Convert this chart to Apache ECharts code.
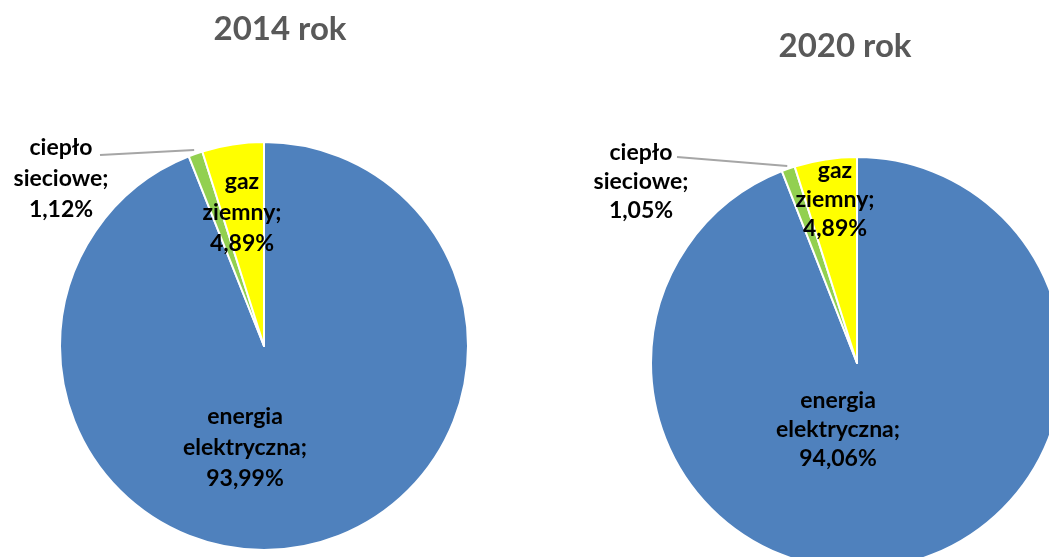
<!DOCTYPE html>
<html>
<head>
<meta charset="utf-8">
<script src="https://cdn.jsdelivr.net/npm/echarts@6/dist/echarts.min.js"></script>
<style>
html,body{margin:0;padding:0;background:#fff;}
#chart{width:1049px;height:557px;}
</style>
</head>
<body>
<div id="chart"></div>
<script>
// ---- data ----
const categories = ['energia\nelektryczna', 'ciepło\nsieciowe', 'gaz\nziemny'];
const values2014 = [93.99, 1.12, 4.89];
const values2020 = [94.06, 1.05, 4.89];
const titles = ['2014 rok', '2020 rok'];
const colors = ['#4F81BD', '#92D050', '#FFFF00'];

// ---- layout (pixels) ----
const pies = [
  { center: [264, 346], radius: 204, titlePos: [275, 24],
    labelOff: [[-19, 102], [-203, -167], [-22, -133]], lineHeight: 31,
    lineEnd: [-164, -191], lineOut: 4 },
  { center: [857, 363], radius: 206, titlePos: [840, 41],
    labelOff: [[-19, 67], [-216, -181], [-22, -163]], lineHeight: 29,
    lineEnd: [-180, -206], lineOut: 3 }
];
const FONT = 'Lato, "DejaVu Sans", sans-serif';

function fmt(v) { return v.toFixed(2).replace('.', ','); }

function makeSeries(vals, idx) {
  const p = pies[idx];
  const total = vals.reduce((a, b) => a + b, 0);
  // mid angle (radians, math convention) of each slice, clockwise from 12 o'clock
  let acc = 0;
  const mids = vals.map(v => { const m = acc + v / 2; acc += v; return Math.PI / 2 - (m / total) * 2 * Math.PI; });
  return {
    type: 'pie',
    center: p.center,
    radius: p.radius,
    startAngle: 90,
    clockwise: true,
    avoidLabelOverlap: false,
    animation: false,
    silent: true,
    itemStyle: { borderColor: '#ffffff', borderWidth: 2 },
    label: {
      show: true,
      position: 'inside',
      formatter: (prm) => prm.name + ';\n' + fmt(prm.value) + '%',
      fontFamily: FONT,
      fontWeight: 'bold',
      fontSize: 23,
      lineHeight: p.lineHeight,
      color: '#000',
      align: 'center'
    },
    labelLine: { show: false },
    labelLayout: function (prm) {
      const o = p.labelOff[prm.dataIndex];
      const res = { x: p.center[0] + o[0], y: p.center[1] + o[1], align: 'center', verticalAlign: 'middle' };
      if (prm.dataIndex === 1) {
        const a = mids[1];
        const r = p.radius + p.lineOut;
        const ex = p.center[0] + r * Math.cos(a);
        const ey = p.center[1] - r * Math.sin(a);
        const tx = p.center[0] + p.lineEnd[0];
        const ty = p.center[1] + p.lineEnd[1];
        res.labelLinePoints = [[ex, ey], [ex, ey], [tx, ty]];
      }
      return res;
    },
    data: categories.map((c, i) => {
      const d = { name: c, value: vals[i], itemStyle: { color: colors[i] } };
      if (i === 1) {
        d.label = { position: 'outside', color: '#000' };
        d.labelLine = { show: true, length: 5, length2: 60, smooth: false, lineStyle: { color: '#A6A6A6', width: 2 } };
      }
      return d;
    })
  };
}

const chart = echarts.init(document.getElementById('chart'), null, { renderer: 'canvas' });
chart.setOption({
  backgroundColor: '#ffffff',
  title: titles.map((t, i) => ({
    text: t,
    left: pies[i].titlePos[0],
    top: pies[i].titlePos[1],
    textAlign: 'center',
    textVerticalAlign: 'middle',
    textStyle: { fontFamily: FONT, fontWeight: 'bold', fontSize: 33, color: '#595959' }
  })),
  series: [makeSeries(values2014, 0), makeSeries(values2020, 1)]
});
</script>
</body>
</html>
